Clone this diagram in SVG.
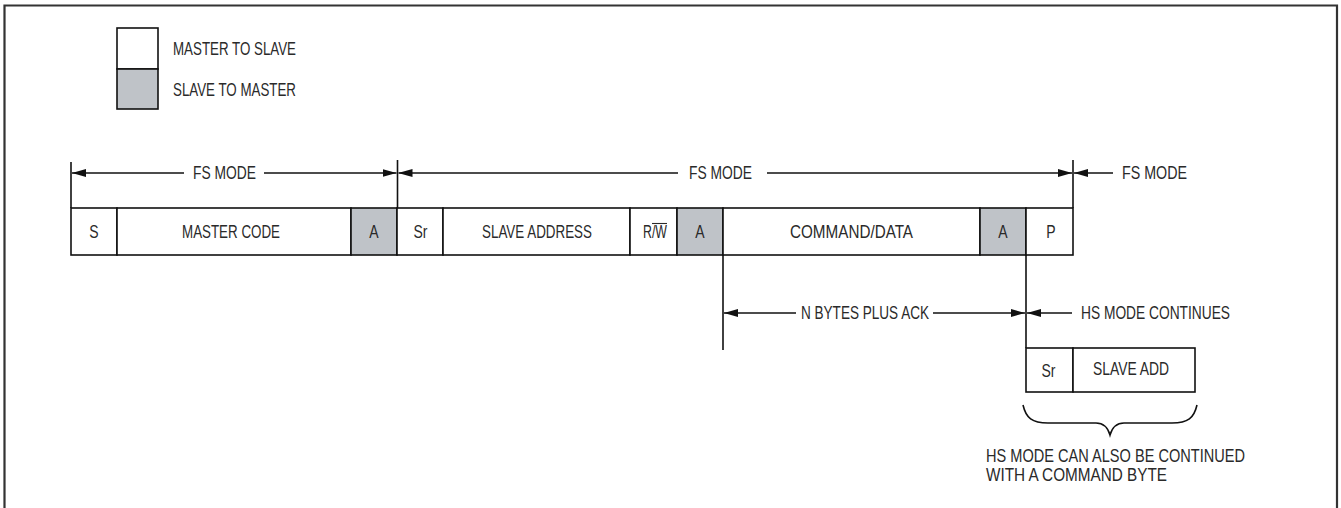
<svg xmlns="http://www.w3.org/2000/svg" width="1341" height="508" viewBox="0 0 1341 508">
<defs>
<style>
text{font-family:"Liberation Sans",Arial,sans-serif;font-size:17.5px;fill:#2a2a2a}
.m{text-anchor:middle}
.box{fill:#fff;stroke:#111;stroke-width:1.6}
.g{fill:#bfc3c8;stroke:#111;stroke-width:1.6}
.ln{stroke:#111;stroke-width:1.6;fill:none}
</style>
<marker id="ah" viewBox="0 0 14 8" refX="14" refY="4" markerWidth="14" markerHeight="8" markerUnits="userSpaceOnUse" orient="auto">
<path d="M0,0 L14,4 L0,8 Z" fill="#111"/>
</marker>
</defs>
<rect width="1341" height="508" fill="#fff"/>
<path d="M4.5,512 V5.5 H1337 V512" fill="none" stroke="#333" stroke-width="2.2"/>

<g id="legend">
<rect class="box" x="117" y="28" width="41" height="41"/>
<rect class="g" x="117" y="69" width="41" height="40"/>
<text x="173" y="55" textLength="123" lengthAdjust="spacingAndGlyphs">MASTER TO SLAVE</text>
<text x="173" y="95.5" textLength="123" lengthAdjust="spacingAndGlyphs">SLAVE TO MASTER</text>
</g>

<g id="frame-main">
<g id="f-s"><rect class="box" x="71" y="208" width="46" height="47"/><text class="m" transform="translate(94,238) scale(0.8,1)">S</text></g>
<g id="f-mastercode"><rect class="box" x="117" y="208" width="234" height="47"/><text x="182" y="238" textLength="98" lengthAdjust="spacingAndGlyphs">MASTER CODE</text></g>
<g id="f-a1"><rect class="g" x="351" y="208" width="46" height="47"/><text class="m" transform="translate(374,238) scale(0.8,1)">A</text></g>
<g id="f-sr"><rect class="box" x="397" y="208" width="46" height="47"/><text class="m" transform="translate(420.5,238) scale(0.8,1)">Sr</text></g>
<g id="f-slaveaddr"><rect class="box" x="443" y="208" width="187" height="47"/><text x="482" y="238" textLength="110" lengthAdjust="spacingAndGlyphs">SLAVE ADDRESS</text></g>
<g id="f-rw"><rect class="box" x="630" y="208" width="47" height="47"/><text x="643" y="238" textLength="24" lengthAdjust="spacingAndGlyphs">R/W</text><line x1="652" y1="223.5" x2="667" y2="223.5" stroke="#2a2a2a" stroke-width="1.1"/></g>
<g id="f-a2"><rect class="g" x="677" y="208" width="46" height="47"/><text class="m" transform="translate(700,238) scale(0.8,1)">A</text></g>
<g id="f-cmd"><rect class="box" x="723" y="208" width="257" height="47"/><text x="790" y="238" textLength="123" lengthAdjust="spacingAndGlyphs">COMMAND/DATA</text></g>
<g id="f-a3"><rect class="g" x="980" y="208" width="46" height="47"/><text class="m" transform="translate(1003,238) scale(0.8,1)">A</text></g>
<g id="f-p"><rect class="box" x="1026" y="208" width="47" height="47"/><text class="m" transform="translate(1051,238) scale(0.8,1)">P</text></g>
</g>

<g id="frame-hs">
<g id="h-sr"><rect class="box" x="1026" y="348" width="47" height="44"/><text class="m" transform="translate(1048.5,377) scale(0.8,1)">Sr</text></g>
<g id="h-slaveadd"><rect class="box" x="1073" y="348" width="122" height="44"/><text x="1093" y="374.5" textLength="76" lengthAdjust="spacingAndGlyphs">SLAVE ADD</text></g>
</g>

<g id="connectors">
<line class="ln" x1="71" y1="162" x2="71" y2="208"/>
<line class="ln" x1="397.5" y1="160" x2="397.5" y2="208"/>
<line class="ln" x1="1073" y1="160" x2="1073" y2="208"/>
<line class="ln" x1="723" y1="255" x2="723" y2="350"/>
<line class="ln" x1="1026" y1="255" x2="1026" y2="348"/>
<line class="ln" x1="184" y1="173" x2="72" y2="173" marker-end="url(#ah)"/>
<line class="ln" x1="264" y1="173" x2="396.5" y2="173" marker-end="url(#ah)"/>
<line class="ln" x1="678" y1="173" x2="398.5" y2="173" marker-end="url(#ah)"/>
<line class="ln" x1="767" y1="173" x2="1072" y2="173" marker-end="url(#ah)"/>
<line class="ln" x1="1113" y1="173" x2="1074" y2="173" marker-end="url(#ah)"/>
<line class="ln" x1="796" y1="313" x2="724" y2="313" marker-end="url(#ah)"/>
<line class="ln" x1="933" y1="313" x2="1025" y2="313" marker-end="url(#ah)"/>
<line class="ln" x1="1072" y1="313" x2="1027" y2="313" marker-end="url(#ah)"/>
<path class="ln" d="M1023,405 C1026,418 1032,423 1048,423 H1096 C1104,423 1108,428 1110,435 C1112,428 1116,423 1124,423 H1172 C1188,423 1194,418 1197,405"/>
</g>

<g id="labels">
<text x="193" y="179" textLength="63" lengthAdjust="spacingAndGlyphs">FS MODE</text>
<text x="689" y="179" textLength="63" lengthAdjust="spacingAndGlyphs">FS MODE</text>
<text x="1122" y="179" textLength="65" lengthAdjust="spacingAndGlyphs">FS MODE</text>
<text x="801" y="319" textLength="128" lengthAdjust="spacingAndGlyphs">N BYTES PLUS ACK</text>
<text x="1081" y="319" textLength="149" lengthAdjust="spacingAndGlyphs">HS MODE CONTINUES</text>
<text x="986" y="462" textLength="259" lengthAdjust="spacingAndGlyphs">HS MODE CAN ALSO BE CONTINUED</text>
<text x="986" y="481" textLength="181" lengthAdjust="spacingAndGlyphs">WITH A COMMAND BYTE</text>
</g>
</svg>
